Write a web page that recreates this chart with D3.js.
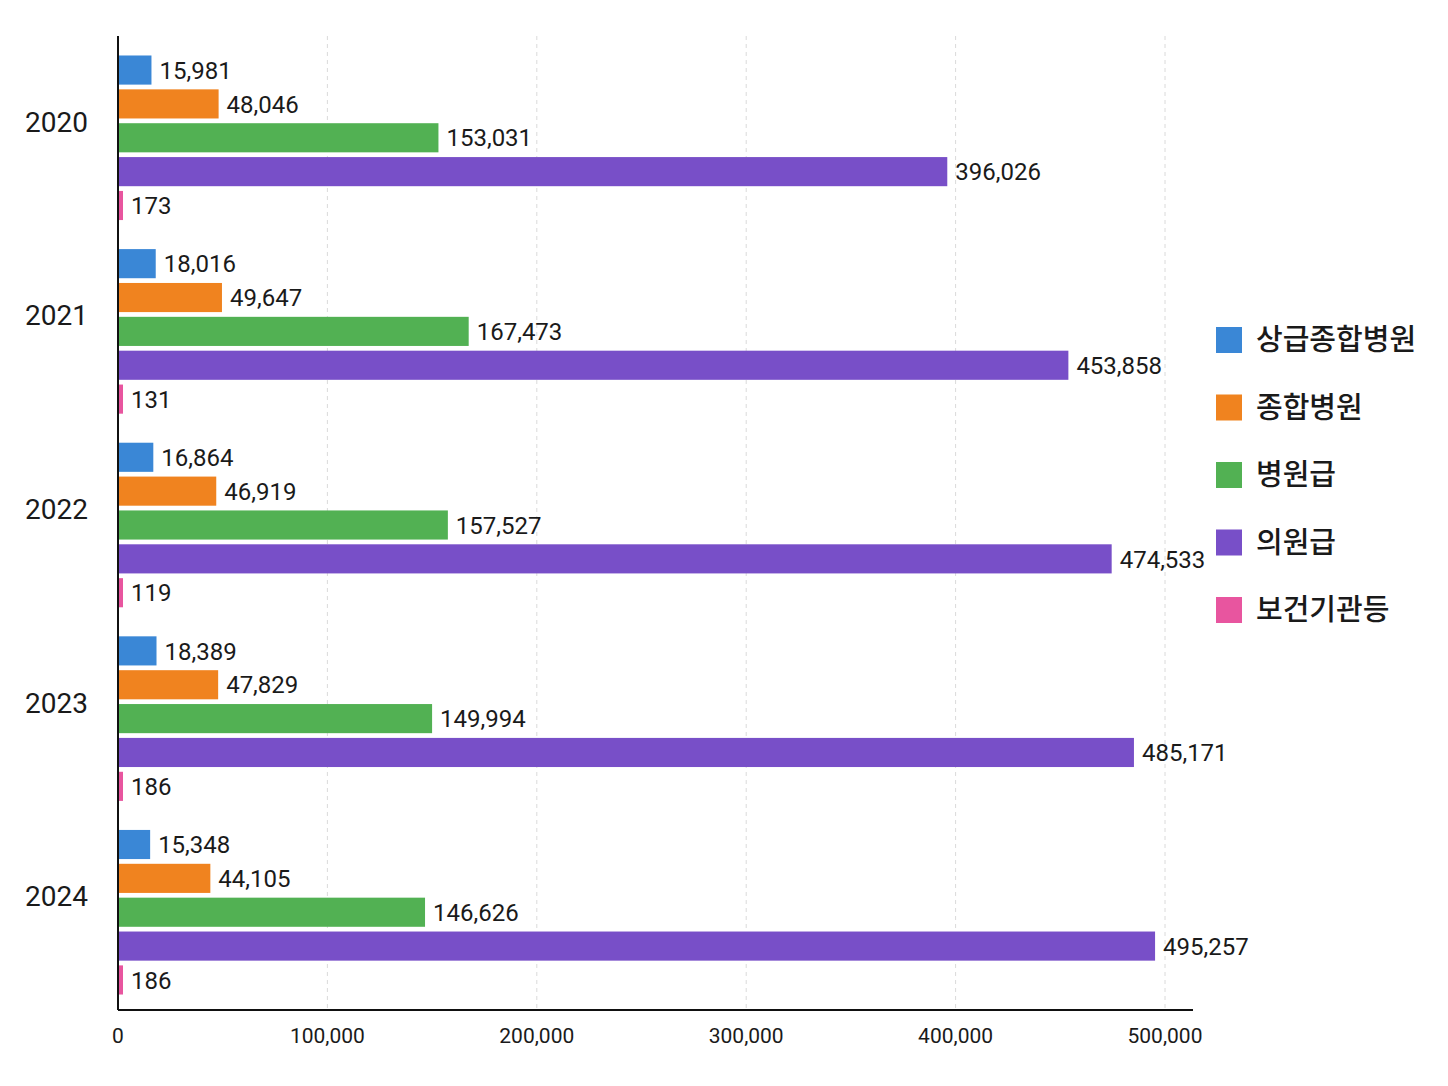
<!DOCTYPE html>
<html>
<head>
<meta charset="utf-8">
<script src="https://cdn.jsdelivr.net/npm/d3@7"></script>
<style>
  body { margin: 0; background: #fff; }
  svg text { font-family: Roboto, "Noto Sans CJK KR", sans-serif; fill: #1a1a1a; }
</style>
</head>
<body>
<script>
// data
var years = ["2020", "2021", "2022", "2023", "2024"];
var seriesNames = ["상급종합병원", "종합병원", "병원급", "의원급", "보건기관등"];
var seriesColors = ["#3a87d6", "#f0831f", "#52b153", "#784fc8", "#e8559f"];
var tertiary = [15981, 18016, 16864, 18389, 15348];
var general = [48046, 49647, 46919, 47829, 44105];
var hospital = [153031, 167473, 157527, 149994, 146626];
var clinic = [396026, 453858, 474533, 485171, 495257];
var publicHealth = [173, 131, 119, 186, 186];
var xTicks = [0, 100000, 200000, 300000, 400000, 500000];

var allSeries = [tertiary, general, hospital, clinic, publicHealth];

var W = 1448, H = 1086;
var plotL = 118, plotR = 1193, plotT = 36, plotB = 1010;

var svg = d3.select("body").append("svg").attr("width", W).attr("height", H);

var x = d3.scaleLinear().domain([0, 500000]).range([plotL, 1165]);
var y0 = d3.scaleBand().domain(years).range([plotT + 4, plotB]).paddingInner(0.15).paddingOuter(0.08);
var y1 = d3.scaleBand().domain(seriesNames).range([0, y0.bandwidth()]).paddingInner(0.14).paddingOuter(0);

// dashed grid
svg.append("g").selectAll("line").data(xTicks.slice(1)).enter().append("line")
  .attr("x1", function(d){ return x(d) }).attr("x2", function(d){ return x(d) })
  .attr("y1", plotT).attr("y2", plotB)
  .attr("stroke", "#dadada").attr("stroke-width", 1).attr("stroke-dasharray", "4,4");

// bars
var rows = [];
years.forEach(function(yr, i){
  seriesNames.forEach(function(s, j){
    rows.push({year: yr, series: s, value: allSeries[j][i], color: seriesColors[j]});
  });
});

svg.append("g").selectAll("rect").data(rows).enter().append("rect")
  .attr("x", x(0))
  .attr("y", function(d){ return y0(d.year) + y1(d.series) })
  .attr("width", function(d){ return Math.max(x(d.value) - x(0), 5) })
  .attr("height", y1.bandwidth())
  .attr("fill", function(d){ return d.color });

svg.append("g").selectAll("text").data(rows).enter().append("text")
  .attr("x", function(d){ return x(0) + Math.max(x(d.value) - x(0), 5) + 8 })
  .attr("y", function(d){ return y0(d.year) + y1(d.series) + y1.bandwidth()/2 })
  .attr("dy", "0.36em")
  .attr("font-size", 24)
  .text(function(d){ return d3.format(",")(d.value) });

// year labels
svg.append("g").selectAll("text").data(years).enter().append("text")
  .attr("x", 88)
  .attr("y", function(d){ return y0(d) + y0.bandwidth()/2 - 16 })
  .attr("dy", "0.36em")
  .attr("text-anchor", "end")
  .attr("font-size", 28)
  .text(function(d){ return d });

// axes lines
svg.append("line").attr("x1", plotL).attr("x2", plotL).attr("y1", plotT).attr("y2", plotB)
  .attr("stroke", "#111").attr("stroke-width", 2);
svg.append("line").attr("x1", plotL).attr("x2", plotR).attr("y1", plotB).attr("y2", plotB)
  .attr("stroke", "#111").attr("stroke-width", 2);

// x tick labels
svg.append("g").selectAll("text").data(xTicks).enter().append("text")
  .attr("x", function(d){ return x(d) })
  .attr("y", 1035)
  .attr("dy", "0.36em")
  .attr("text-anchor", "middle")
  .attr("font-size", 21)
  .text(function(d){ return d3.format(",")(d) });

// legend
var lg = svg.append("g").selectAll("g").data(seriesNames).enter().append("g")
  .attr("transform", function(d, i){ return "translate(1216," + (340 + i*67.5) + ")" });
lg.append("rect").attr("x", 0).attr("y", -13).attr("width", 26).attr("height", 26)
  .attr("fill", function(d, i){ return seriesColors[i] });
lg.append("text").attr("x", 40).attr("dy", "0.36em").attr("font-size", 29)
  .attr("font-weight", 500)
  .style("font-family", "'Noto Sans CJK KR', sans-serif")
  .text(function(d){ return d });
</script>
</body>
</html>
